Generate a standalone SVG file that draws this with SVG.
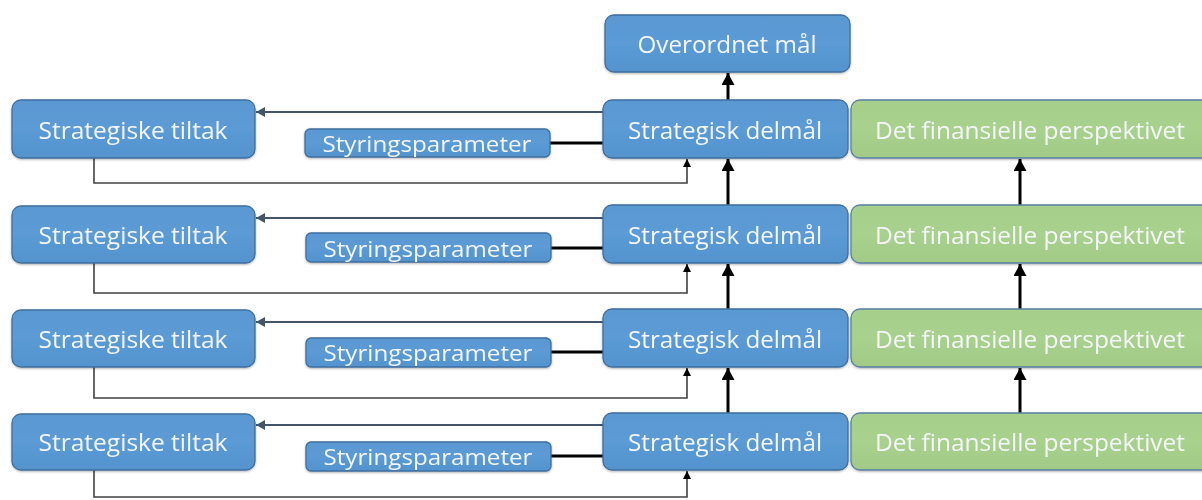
<svg xmlns="http://www.w3.org/2000/svg" width="1202" height="500" viewBox="0 0 1202 500">
<style>
.b{fill:url(#gb);stroke:#3f6f9e;stroke-width:1.3}
.g{fill:url(#gg);stroke:#5b7fa6;stroke-width:1.3}
.t{font-family:"Open Sans","Liberation Sans",sans-serif;font-size:24px;fill:#f4f6f9;text-anchor:middle;dominant-baseline:central}
.ts{font-size:22px}
.thick{stroke:#000;stroke-width:3;fill:none}
.row{stroke:#44546a;stroke-width:2;fill:none}
.fb{stroke:#404040;stroke-width:1.6;fill:none}
</style>
<defs>
<linearGradient id="gb" x1="0" y1="0" x2="0" y2="1">
<stop offset="0" stop-color="#5a98d2"/><stop offset="0.5" stop-color="#5b9bd5"/><stop offset="1" stop-color="#5393cd"/>
</linearGradient>
<linearGradient id="gg" x1="0" y1="0" x2="0" y2="1">
<stop offset="0" stop-color="#a6cf8b"/><stop offset="0.5" stop-color="#a9d18e"/><stop offset="1" stop-color="#a1ca86"/>
</linearGradient>
<filter id="sh" x="-5%" y="-10%" width="110%" height="130%">
<feDropShadow dx="0" dy="1" stdDeviation="1" flood-color="#000" flood-opacity="0.3"/>
</filter>
<marker id="ab" markerUnits="userSpaceOnUse" markerWidth="13" markerHeight="13" refX="12" refY="6.5" orient="auto">
<path d="M0,0 L12,6.5 L0,13 z" fill="#000"/>
</marker>
<marker id="ar" markerUnits="userSpaceOnUse" markerWidth="10" markerHeight="10" refX="9" refY="5" orient="auto">
<path d="M0,0 L9,5 L0,10 z" fill="#44546a"/>
</marker>
<marker id="af" markerUnits="userSpaceOnUse" markerWidth="9" markerHeight="9" refX="8" refY="4" orient="auto">
<path d="M0,0 L8,4 L0,8 z" fill="#000"/>
</marker>
</defs>

<g id="connectors">
<line class="thick" x1="728" y1="100" x2="728" y2="73" marker-end="url(#ab)"/>
<line class="thick" x1="728" y1="205" x2="728" y2="159" marker-end="url(#ab)"/>
<line class="thick" x1="728" y1="309" x2="728" y2="264" marker-end="url(#ab)"/>
<line class="thick" x1="728" y1="413" x2="728" y2="368" marker-end="url(#ab)"/>
<line class="thick" x1="1020" y1="205" x2="1020" y2="159" marker-end="url(#ab)"/>
<line class="thick" x1="1020" y1="309" x2="1020" y2="264" marker-end="url(#ab)"/>
<line class="thick" x1="1020" y1="413" x2="1020" y2="368" marker-end="url(#ab)"/>
<line class="row" x1="603" y1="112" x2="256" y2="112" marker-end="url(#ar)"/>
<line class="row" x1="603" y1="218" x2="256" y2="218" marker-end="url(#ar)"/>
<line class="row" x1="603" y1="322" x2="256" y2="322" marker-end="url(#ar)"/>
<line class="row" x1="603" y1="425" x2="256" y2="425" marker-end="url(#ar)"/>
<line class="thick" x1="550" y1="143" x2="603" y2="143"/>
<line class="thick" x1="550" y1="248" x2="603" y2="248"/>
<line class="thick" x1="550" y1="352" x2="603" y2="352"/>
<line class="thick" x1="550" y1="456" x2="603" y2="456"/>
<polyline class="fb" points="94,158 94,183 687,183 687,159" marker-end="url(#af)"/>
<polyline class="fb" points="94,263 94,293 687,293 687,264" marker-end="url(#af)"/>
<polyline class="fb" points="94,367 94,398 687,398 687,368" marker-end="url(#af)"/>
<polyline class="fb" points="94,470 94,497 687,497 687,471" marker-end="url(#af)"/>
</g>

<g id="overordnet" filter="url(#sh)">
<rect class="b" x="605" y="15" width="245" height="57" rx="9"/>
<text class="t" x="727" y="43" textLength="179" lengthAdjust="spacingAndGlyphs">Overordnet mål</text>
</g>

<g id="tiltak1" filter="url(#sh)"><rect class="b" x="12" y="100" width="243" height="58" rx="9"/><text class="t" x="133" y="129" textLength="189" lengthAdjust="spacingAndGlyphs">Strategiske tiltak</text></g>
<g id="tiltak2" filter="url(#sh)"><rect class="b" x="12" y="206" width="243" height="57" rx="9"/><text class="t" x="133" y="234" textLength="189" lengthAdjust="spacingAndGlyphs">Strategiske tiltak</text></g>
<g id="tiltak3" filter="url(#sh)"><rect class="b" x="12" y="310" width="243" height="57" rx="9"/><text class="t" x="133" y="338" textLength="189" lengthAdjust="spacingAndGlyphs">Strategiske tiltak</text></g>
<g id="tiltak4" filter="url(#sh)"><rect class="b" x="12" y="414" width="243" height="56" rx="9"/><text class="t" x="133" y="441" textLength="189" lengthAdjust="spacingAndGlyphs">Strategiske tiltak</text></g>

<g id="styr1" filter="url(#sh)"><rect class="b" x="305" y="129" width="245" height="28" rx="5"/><text class="t ts" x="427" y="143" textLength="209" lengthAdjust="spacingAndGlyphs">Styringsparameter</text></g>
<g id="styr2" filter="url(#sh)"><rect class="b" x="306" y="233" width="245" height="29" rx="5"/><text class="t ts" x="428" y="248" textLength="209" lengthAdjust="spacingAndGlyphs">Styringsparameter</text></g>
<g id="styr3" filter="url(#sh)"><rect class="b" x="306" y="338" width="245" height="29" rx="5"/><text class="t ts" x="428" y="352" textLength="209" lengthAdjust="spacingAndGlyphs">Styringsparameter</text></g>
<g id="styr4" filter="url(#sh)"><rect class="b" x="306" y="442" width="245" height="29" rx="5"/><text class="t ts" x="428" y="456" textLength="209" lengthAdjust="spacingAndGlyphs">Styringsparameter</text></g>

<g id="delmal1" filter="url(#sh)"><rect class="b" x="603" y="100" width="245" height="58" rx="9"/><text class="t" x="725" y="129" textLength="194" lengthAdjust="spacingAndGlyphs">Strategisk delmål</text></g>
<g id="delmal2" filter="url(#sh)"><rect class="b" x="603" y="205" width="245" height="58" rx="9"/><text class="t" x="725" y="234" textLength="194" lengthAdjust="spacingAndGlyphs">Strategisk delmål</text></g>
<g id="delmal3" filter="url(#sh)"><rect class="b" x="603" y="309" width="245" height="58" rx="9"/><text class="t" x="725" y="338" textLength="194" lengthAdjust="spacingAndGlyphs">Strategisk delmål</text></g>
<g id="delmal4" filter="url(#sh)"><rect class="b" x="603" y="413" width="245" height="57" rx="9"/><text class="t" x="725" y="441" textLength="194" lengthAdjust="spacingAndGlyphs">Strategisk delmål</text></g>

<g id="fin1" filter="url(#sh)"><rect class="g" x="851" y="100" width="360" height="58" rx="9"/><text class="t" x="1030" y="129" textLength="310" lengthAdjust="spacingAndGlyphs">Det finansielle perspektivet</text></g>
<g id="fin2" filter="url(#sh)"><rect class="g" x="851" y="205" width="360" height="58" rx="9"/><text class="t" x="1030" y="234" textLength="310" lengthAdjust="spacingAndGlyphs">Det finansielle perspektivet</text></g>
<g id="fin3" filter="url(#sh)"><rect class="g" x="851" y="309" width="360" height="58" rx="9"/><text class="t" x="1030" y="338" textLength="310" lengthAdjust="spacingAndGlyphs">Det finansielle perspektivet</text></g>
<g id="fin4" filter="url(#sh)"><rect class="g" x="851" y="413" width="360" height="57" rx="9"/><text class="t" x="1030" y="441" textLength="310" lengthAdjust="spacingAndGlyphs">Det finansielle perspektivet</text></g>
</svg>
